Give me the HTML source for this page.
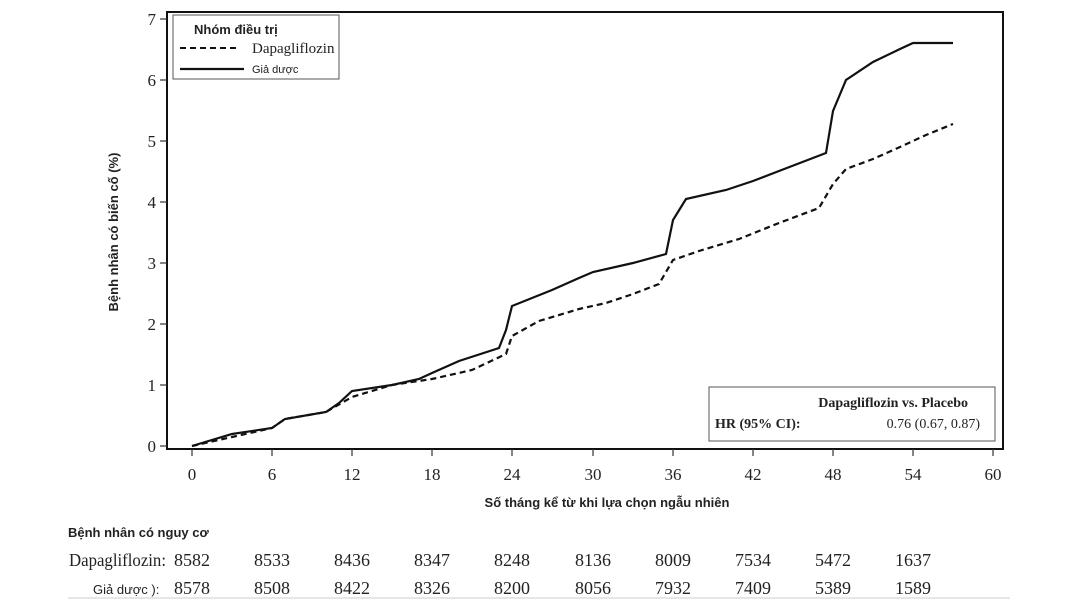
<!DOCTYPE html>
<html><head><meta charset="utf-8"><style>
body{margin:0;background:#fff;width:1080px;height:600px;overflow:hidden}
svg text{fill:#222}
.s{font-family:"Liberation Sans",sans-serif}
.r{font-family:"Liberation Serif",serif}
</style></head><body>
<svg width="1080" height="600" viewBox="0 0 1080 600">
<rect x="167" y="12" width="836" height="437" fill="none" stroke="#111" stroke-width="2"/>
<g stroke="#333" stroke-width="1.2">
<line x1="160" y1="446" x2="167" y2="446"/><line x1="160" y1="385" x2="167" y2="385"/>
<line x1="160" y1="324" x2="167" y2="324"/><line x1="160" y1="263" x2="167" y2="263"/>
<line x1="160" y1="202" x2="167" y2="202"/><line x1="160" y1="141" x2="167" y2="141"/>
<line x1="160" y1="80" x2="167" y2="80"/><line x1="160" y1="19" x2="167" y2="19"/>
<line x1="192" y1="449" x2="192" y2="456"/><line x1="272" y1="449" x2="272" y2="456"/>
<line x1="352" y1="449" x2="352" y2="456"/><line x1="432" y1="449" x2="432" y2="456"/>
<line x1="512" y1="449" x2="512" y2="456"/><line x1="593" y1="449" x2="593" y2="456"/>
<line x1="673" y1="449" x2="673" y2="456"/><line x1="753" y1="449" x2="753" y2="456"/>
<line x1="833" y1="449" x2="833" y2="456"/><line x1="913" y1="449" x2="913" y2="456"/>
<line x1="993" y1="449" x2="993" y2="456"/>
</g>
<g class="r" font-size="17" text-anchor="end">
<text x="156" y="452">0</text><text x="156" y="391">1</text><text x="156" y="330">2</text>
<text x="156" y="269">3</text><text x="156" y="208">4</text><text x="156" y="147">5</text>
<text x="156" y="86">6</text><text x="156" y="25">7</text>
</g>
<g class="r" font-size="17" text-anchor="middle">
<text x="192" y="480">0</text><text x="272" y="480">6</text><text x="352" y="480">12</text>
<text x="432" y="480">18</text><text x="512" y="480">24</text><text x="593" y="480">30</text>
<text x="673" y="480">36</text><text x="753" y="480">42</text><text x="833" y="480">48</text>
<text x="913" y="480">54</text><text x="993" y="480">60</text>
</g>
<text class="s" font-size="13" font-weight="bold" x="607" y="507" text-anchor="middle">Số tháng kể từ khi lựa chọn ngẫu nhiên</text>
<text class="s" font-size="13" font-weight="bold" transform="translate(118,232) rotate(-90)" text-anchor="middle">Bệnh nhân có biến cố (%)</text>
<polyline fill="none" stroke="#111" stroke-width="2.2" points="192,446 232,434 272,428 285,419 326,412 339,403 352,391 392,385 419,379 432,373 459,361 499,348 506,330 512,306 552,290 579,278 593,272 633,263 666,254 673,220 686,199 726,190 753,181 779,171 826,153 833,111 846,80 873,62 900,49 913,43 953,43"/>
<polyline fill="none" stroke="#111" stroke-width="2.2" stroke-dasharray="6,4" points="192,446 232,437 272,428 285,419 326,412 352,397 392,385 432,379 472,370 506,354 512,336 539,321 579,309 606,303 633,294 659,284 673,260 699,251 739,239 779,223 819,208 833,184 846,169 873,159 900,147 926,135 953,124"/>
<rect x="173" y="15" width="166" height="64" fill="#fff" stroke="#555" stroke-width="1"/>
<text class="s" font-size="13" font-weight="bold" x="194" y="34">Nhóm điều trị</text>
<line x1="180" y1="48" x2="240" y2="48" stroke="#111" stroke-width="2" stroke-dasharray="6,4"/>
<text class="r" font-size="15" x="252" y="53">Dapagliflozin</text>
<line x1="180" y1="69" x2="244" y2="69" stroke="#111" stroke-width="2.2"/>
<text class="s" font-size="11" x="252" y="73">Giả dược</text>
<rect x="709" y="387" width="286" height="54" fill="#fff" stroke="#555" stroke-width="1"/>
<text class="r" font-size="14" font-weight="bold" x="968" y="407" text-anchor="end">Dapagliflozin vs. Placebo</text>
<text class="r" font-size="14" font-weight="bold" x="715" y="428">HR (95% CI):</text>
<text class="r" font-size="14" x="980" y="428" text-anchor="end">0.76 (0.67, 0.87)</text>
<text class="s" font-size="13" font-weight="bold" x="68" y="537">Bệnh nhân có nguy cơ</text>
<text class="r" font-size="18" x="69" y="566" textLength="97" lengthAdjust="spacingAndGlyphs">Dapagliflozin:</text>
<text class="s" font-size="13" x="93" y="594">Giả dược ):</text>
<g class="r" font-size="18" text-anchor="middle">
<text x="192" y="566">8582</text><text x="272" y="566">8533</text><text x="352" y="566">8436</text>
<text x="432" y="566">8347</text><text x="512" y="566">8248</text><text x="593" y="566">8136</text>
<text x="673" y="566">8009</text><text x="753" y="566">7534</text><text x="833" y="566">5472</text>
<text x="913" y="566">1637</text>
<text x="192" y="594">8578</text><text x="272" y="594">8508</text><text x="352" y="594">8422</text>
<text x="432" y="594">8326</text><text x="512" y="594">8200</text><text x="593" y="594">8056</text>
<text x="673" y="594">7932</text><text x="753" y="594">7409</text><text x="833" y="594">5389</text>
<text x="913" y="594">1589</text>
</g>
<line x1="68" y1="598" x2="1010" y2="598" stroke="#ccc" stroke-width="1"/>
</svg>
</body></html>
